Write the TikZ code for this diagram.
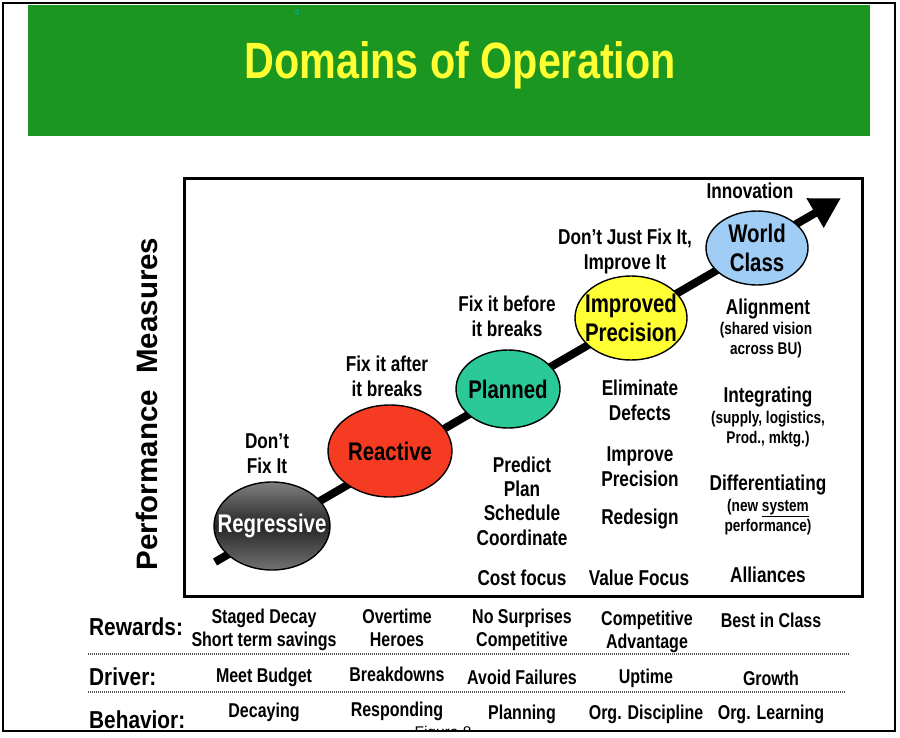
\documentclass[tikz,border=0pt]{standalone}
\usepackage{fontspec}
\setmainfont{Liberation Sans}
\newfontfamily\nf[FakeStretch=0.8]{Liberation Sans}
\newfontfamily\hf[FakeStretch=0.85]{Liberation Sans}
\newfontfamily\tf[FakeStretch=0.81]{Liberation Sans}
\usetikzlibrary{arrows.meta,shapes.geometric}
\definecolor{band}{RGB}{27,150,32}
\definecolor{ttl}{RGB}{255,255,51}
\definecolor{redc}{RGB}{245,59,34}
\definecolor{tealc}{RGB}{43,201,151}
\definecolor{yelc}{RGB}{255,255,51}
\definecolor{bluec}{RGB}{160,205,245}
\begin{document}
\begin{tikzpicture}[x=1pt,y=-1pt,
  lbl/.style={font=\nf\bfseries\fontsize{21.5}{25}\selectfont,align=center,inner sep=0},
  sml/.style={font=\nf\bfseries\fontsize{17}{20}\selectfont,align=center,inner sep=0},
  bot/.style={font=\nf\bfseries\fontsize{20}{22.5}\selectfont,align=center,inner sep=0},
  head/.style={font=\hf\bfseries\fontsize{24.5}{26}\selectfont,anchor=west,inner sep=0},
  el/.style={ellipse,draw=black,line width=1.4pt,inner sep=0},
  eltext/.style={font=\nf\bfseries\fontsize{25.5}{29}\selectfont,align=center},
  sep/.style={draw=black!70,line width=1.6pt,dash pattern=on 1pt off 1pt}]
\useasboundingbox (0,0) rectangle (900,737);
% outer frame
\draw[line width=2pt] (3,3) rectangle (895,731);
% header band
\fill[band] (28,5) rectangle (870,136);
\node[font=\fontsize{9}{10}\selectfont,text=cyan!70!green,inner sep=0] (pg) at (297,12) {4};
\node[font=\tf\bfseries\fontsize{51}{56}\selectfont,text=ttl,inner sep=0] (title) at (460,65) {Domains of Operation};
% main box
\draw[line width=3pt] (184,178) rectangle (862,596);
% axis label
\node[font=\bfseries\fontsize{29.5}{31}\selectfont,rotate=90,inner sep=0] (axis) at (147,404) {Performance\ \ Measures};
% arrow
\coordinate (a0) at (215,562);
\coordinate (a1) at (841,198);
\draw[line width=8pt,-{Triangle[length=30pt,width=32pt]}] (a0) -- (a1);
% ellipses
\node[el,minimum width=116,minimum height=88,top color=black!50,bottom color=black!55,middle color=black!85,
  label={[eltext,text=white]center:Regressive}] (reg) at (272,526) {};
\node[el,fill=redc,minimum width=124,minimum height=92,
  label={[eltext]center:Reactive}] (rea) at (390,451) {};
\node[el,fill=tealc,minimum width=104,minimum height=78,
  label={[eltext]center:Planned}] (pla) at (508,389) {};
\node[el,fill=yelc,minimum width=112,minimum height=84,
  label={[eltext,align=center]center:Improved\\Precision}] (imp) at (631,318) {};
\node[el,fill=bluec,minimum width=102,minimum height=74,
  label={[eltext,align=center]center:World\\Class}] (wc) at (757,248) {};
% labels above
\node[lbl] (l1) at (267,454) {Don’t\\Fix It};
\node[lbl] (l2) at (387,376) {Fix it after\\it breaks};
\node[lbl] (l3) at (507,316) {Fix it before\\it breaks};
\node[lbl] (l4) at (625,251) {Don’t Just Fix It,\\Improve It};
\node[lbl] (l5) at (750,191) {Innovation};
% column planned
\node[lbl,font=\nf\bfseries\fontsize{21.5}{24.4}\selectfont] (c1) at (522,501) {Predict\\Plan\\Schedule\\Coordinate};
\node[lbl] (c1b) at (522,578) {Cost focus};
% column improved
\node[lbl] (c2a) at (640,400) {Eliminate\\Defects};
\node[lbl] (c2b) at (640,467) {Improve\\Precision};
\node[lbl] (c2c) at (640,519) {Redesign};
\node[lbl] (c2d) at (639,578) {Value Focus};
% column world class
\node[lbl] (c3a) at (768,309) {Alignment};
\node[sml] (c3b) at (766,340) {(shared vision\\across BU)};
\node[lbl] (c3c) at (768,397) {Integrating};
\node[sml] (c3d) at (768,429) {(supply, logistics,\\Prod., mktg.)};
\node[lbl] (c3e) at (768,485) {Differentiating};
\node[sml] (c3f) at (768,517) {(new \underline{system}\\performance)};
\node[lbl] (c3g) at (768,575) {Alliances};
% bottom table
\node[head] (rw) at (89,627) {Rewards:};
\node[bot] (r1) at (264,630) {Staged Decay\\Short term savings};
\node[bot] (r2) at (397,628) {Overtime\\Heroes};
\node[bot] (r3) at (522,630) {No Surprises\\Competitive};
\node[bot] (r4) at (647,632) {Competitive\\Advantage};
\node[bot] (r5) at (771,620) {Best in Class};
\coordinate (s1a) at (88,654);
\coordinate (s1b) at (849,654);
\draw[sep] (s1a) -- (s1b);
\node[head] (dr) at (89,677) {Driver:};
\node[bot] (d1) at (264,677) {Meet Budget};
\node[bot] (d2) at (397,674) {Breakdowns};
\node[bot] (d3) at (522,677) {Avoid Failures};
\node[bot] (d4) at (646,678) {Uptime};
\node[bot] (d5) at (771,678) {Growth};
\coordinate (s2a) at (88,692);
\coordinate (s2b) at (846,692);
\draw[sep] (s2a) -- (s2b);
\node[head] (bh) at (89,720) {Behavior:};
\node[bot] (b1) at (264,712) {Decaying};
\node[bot] (b2) at (397,711) {Responding};
\node[bot] (b3) at (522,714) {Planning};
\node[bot] (b4) at (646,714) {Org. Discipline};
\node[bot] (b5) at (771,714) {Org. Learning};
\begin{scope}
\clip (0,0) rectangle (900,730);
\node[font=\fontsize{15.5}{17}\selectfont,anchor=north,inner sep=0] (fig) at (443,726) {Figure 8};
\end{scope}
\end{tikzpicture}
\end{document}
